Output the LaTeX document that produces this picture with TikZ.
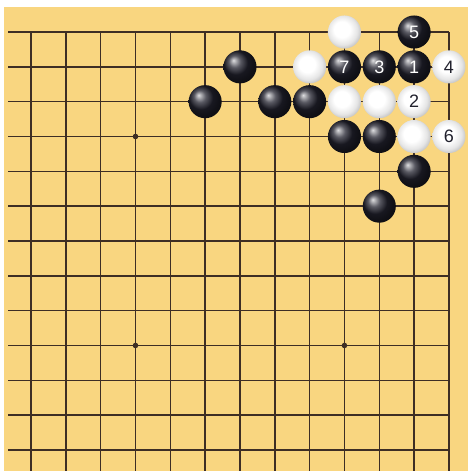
\documentclass[tikz,border=0pt]{standalone}
\usepackage{fontspec}
\setmainfont{Liberation Sans}
\definecolor{board}{RGB}{249,214,128}
\definecolor{gridline}{RGB}{62,46,36}
\definecolor{stoneblack}{RGB}{34,34,46}
\pgfdeclareradialshading{whiteball}{\pgfpoint{-5bp}{5bp}}{%
  color(0bp)=(white); color(12bp)=(white); color(22bp)=(black!10);
  color(31bp)=(black!30); color(50bp)=(black!30)}
\tikzset{
  bstone/.style={shading=ball,ball color=stoneblack},
  wstone/.style={shading=whiteball},
  bnum/.style={text=white,font=\fontsize{18}{18}\selectfont},
  wnum/.style={text=stoneblack,font=\fontsize{18}{18}\selectfont}
}
\begin{document}
\begin{tikzpicture}[x=34.83pt,y=-34.83pt]
  \useasboundingbox (-0.890,-0.919) rectangle (12.547,12.604);
  \fill[white] (-0.890,-0.919) rectangle (12.547,12.604);
  \fill[board] (-0.775,-0.718) rectangle (12.547,12.604);
  % grid
  \foreach \r in {0,...,12}
    \draw[gridline,line width=1.5pt] (-0.66,\r) -- (12,\r);
  \foreach \c in {0,...,12}
    \draw[gridline,line width=1.5pt] (\c,0) -- (\c,12.604);
  \foreach \p in {(3,3),(9,3),(3,9),(9,9)}
    \fill[gridline] \p circle(0.08);
  % black stones
  \foreach \p in {(6,1),(5,2),(7,2),(8,2),(9,3),(10,3),(11,4),(10,5)}
    \shade[bstone] \p circle(0.475);
  % white stones
  \foreach \p in {(9,0),(8,1),(9,2),(10,2),(11,3)}
    \shade[wstone] \p circle(0.475);
  % numbered moves
  \shade[bstone] (11,1) circle(0.475) node[bnum]{1};
  \shade[wstone] (11,2) circle(0.475) node[wnum]{2};
  \shade[bstone] (10,1) circle(0.475) node[bnum]{3};
  \shade[wstone] (12,1) circle(0.475) node[wnum]{4};
  \shade[bstone] (11,0) circle(0.475) node[bnum]{5};
  \shade[wstone] (12,3) circle(0.475) node[wnum]{6};
  \shade[bstone] (9,1) circle(0.475) node[bnum]{7};
\end{tikzpicture}
\end{document}
